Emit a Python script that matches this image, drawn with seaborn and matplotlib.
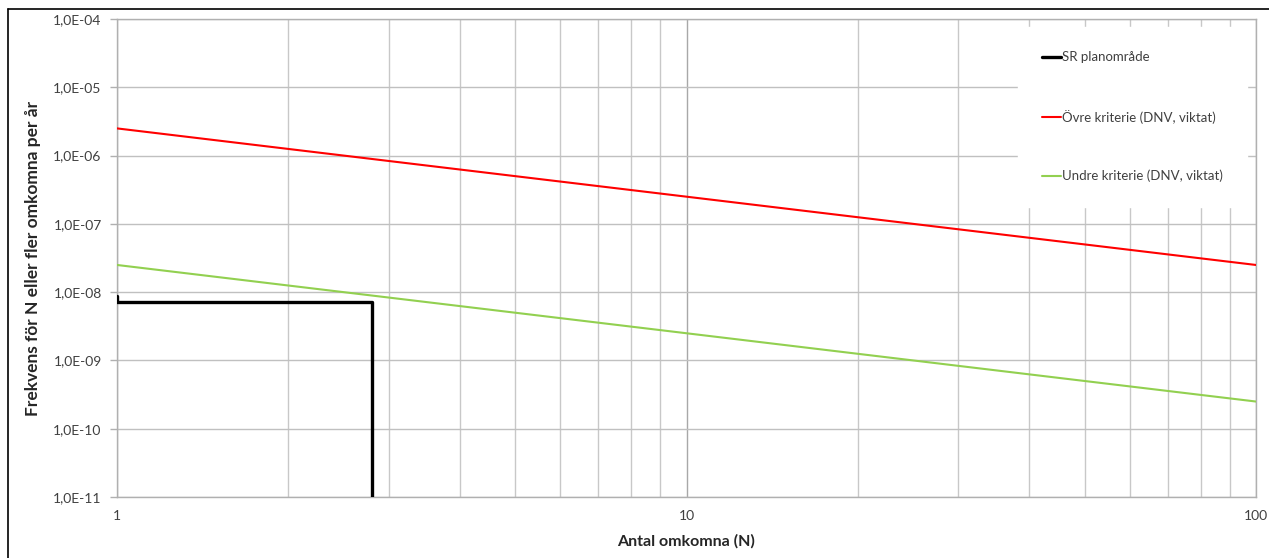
import matplotlib
matplotlib.use("Agg")
import numpy as np
import pandas as pd
import seaborn as sns
import matplotlib.pyplot as plt
from matplotlib.lines import Line2D
from matplotlib.ticker import FixedLocator, FuncFormatter, NullFormatter

# ---- data ----
N_crit = [1, 100]
upper_crit = [2.5e-6, 2.5e-8]
lower_crit = [2.5e-8, 2.5e-10]
N_sr = [1, 1, 2.8, 2.8]
F_sr = [8.9e-9, 7.1e-9, 7.1e-9, 1e-11]
series_labels = ["SR planområde", "Övre kriterie (DNV, viktat)", "Undre kriterie (DNV, viktat)"]
x_ticks = [1, 10, 100]
y_ticks = [1e-11, 1e-10, 1e-9, 1e-8, 1e-7, 1e-6, 1e-5, 1e-4]
x_label = "Antal omkomna (N)"
y_label = "Frekvens för N eller fler omkomna per år"

sns.set_style("white")
plt.rcParams["font.family"] = ["Lato", "DejaVu Sans"]

fig = plt.figure(figsize=(12.69, 5.58), dpi=100)
ax = fig.add_axes([117 / 1269, 1 - 497 / 558, (1256 - 117) / 1269, (497 - 19) / 558])

df_sr = pd.DataFrame({"N": N_sr, "F": F_sr})
df_up = pd.DataFrame({"N": N_crit, "F": upper_crit})
df_lo = pd.DataFrame({"N": N_crit, "F": lower_crit})

sns.lineplot(data=df_sr, x="N", y="F", sort=False, estimator=None, color="black",
             linewidth=2.4, ax=ax, label=series_labels[0], zorder=3)
sns.lineplot(data=df_up, x="N", y="F", sort=False, estimator=None, color="#ff0000",
             linewidth=1.5, ax=ax, label=series_labels[1], zorder=3)
sns.lineplot(data=df_lo, x="N", y="F", sort=False, estimator=None, color="#92d050",
             linewidth=1.5, ax=ax, label=series_labels[2], zorder=3)

ax.set_xscale("log")
ax.set_yscale("log")
ax.set_xlim(1, 100)
ax.set_ylim(1e-11, 1e-4)

minor_x = [m * 10 ** e for e in range(0, 2) for m in range(2, 10)]
ax.xaxis.set_major_locator(FixedLocator(x_ticks))
ax.xaxis.set_minor_locator(FixedLocator(minor_x))
ax.xaxis.set_major_formatter(FuncFormatter(lambda v, p: f"{v:g}"))
ax.xaxis.set_minor_formatter(NullFormatter())
ax.yaxis.set_major_locator(FixedLocator(y_ticks))
ax.yaxis.set_minor_locator(FixedLocator([]))
ax.yaxis.set_major_formatter(FuncFormatter(lambda v, p: f"{v:.1E}".replace(".", ",")))

ax.grid(True, which="major", axis="y", color="#c0c0c0", linewidth=1.0)
ax.grid(True, which="major", axis="x", color="#a8a8a8", linewidth=1.0)
ax.grid(True, which="minor", axis="x", color="#c8c8c8", linewidth=1.0)
ax.set_axisbelow(True)
for s in ax.spines.values():
    s.set_color("#b0b0b0")
    s.set_linewidth(1.0)

ax.tick_params(axis="y", which="major", length=5, width=1, color="#b0b0b0",
               labelsize=10, labelcolor="#404040", pad=6, left=True)
ax.tick_params(axis="x", which="both", length=0, labelsize=10,
               labelcolor="#404040", pad=9)

ax.set_xlabel(x_label, fontsize=11.5, fontweight="bold", color="#262626", labelpad=9)
ax.set_ylabel(y_label, fontsize=12.5, fontweight="bold", color="#262626", labelpad=9)

handles = [Line2D([0], [0], color="black", lw=2.4),
           Line2D([0], [0], color="#ff0000", lw=1.5),
           Line2D([0], [0], color="#92d050", lw=1.5)]
leg = ax.legend(handles, series_labels, loc="upper left",
                bbox_to_anchor=((1018 - 117) / 1139, (497 - 27) / 478),
                frameon=True, fancybox=False, framealpha=1, edgecolor="white",
                facecolor="white", fontsize=9.5, handlelength=1.4,
                handletextpad=0.1, labelspacing=3.5, borderpad=1.85,
                borderaxespad=0)
for t in leg.get_texts():
    t.set_color("#404040")
leg.set_zorder(5)

# outer chart-area border (top and left)
fig.add_artist(Line2D([8 / 1269, 1], [1 - 9 / 558, 1 - 9 / 558], color="black",
                      lw=1.2, transform=fig.transFigure))
fig.add_artist(Line2D([8 / 1269, 8 / 1269], [0, 1 - 9 / 558], color="black",
                      lw=1.2, transform=fig.transFigure))

fig.savefig("out.png", dpi=100)
